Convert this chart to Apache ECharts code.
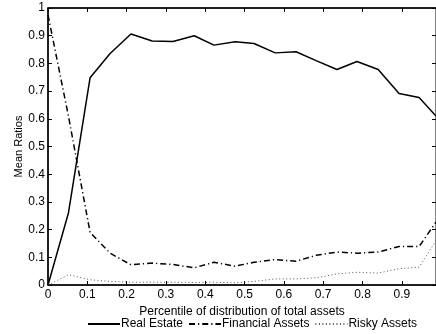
<!DOCTYPE html>
<html>
<head>
<meta charset="utf-8">
<script src="https://cdn.jsdelivr.net/npm/echarts@6/dist/echarts.min.js"></script>
<style>
  html, body { margin: 0; padding: 0; background: #fff; }
  #chart { width: 436px; height: 334px; }
</style>
</head>
<body>
<div id="chart"></div>
<script>
// percentile positions
const percentiles = [0, 0.052, 0.107, 0.158, 0.211, 0.265, 0.318, 0.372, 0.422, 0.476,
    0.524, 0.578, 0.631, 0.682, 0.735, 0.786, 0.840, 0.893, 0.944, 0.987];

const realEstate = [0, 0.26, 0.748, 0.836, 0.906, 0.881, 0.879, 0.90, 0.866, 0.878,
    0.872, 0.838, 0.842, 0.81, 0.778, 0.807, 0.778, 0.691, 0.677, 0.61];

const financialAssets = [0.975, 0.61, 0.19, 0.115, 0.073, 0.079, 0.074, 0.062, 0.082, 0.068,
    0.082, 0.092, 0.086, 0.107, 0.119, 0.115, 0.119, 0.139, 0.139, 0.227];

const riskyAssets = [0, 0.037, 0.019, 0.013, 0.01, 0.01, 0.01, 0.009, 0.01, 0.008,
    0.013, 0.022, 0.022, 0.026, 0.04, 0.046, 0.043, 0.059, 0.064, 0.16];

const seriesNames = ['Real Estate', 'Financial Assets', 'Risky Assets'];

const toPoints = (values) => values.map((v, i) => [percentiles[i], v]);

const font = '"Liberation Sans", Arial, Helvetica, sans-serif';
const chart = echarts.init(document.getElementById('chart'), null, {renderer: 'canvas'});

const tickFormatter = (value) => {
    return value === 0 ? '0' : (Math.round(value * 10) / 10).toString();
};

const option = {
    animation: false,
    backgroundColor: '#ffffff',
    grid: {
        left: 48,
        right: 0,
        top: 8,
        bottom: 49,
        show: true,
        borderColor: '#000',
        borderWidth: 1
    },
    legend: {
        top: 313,
        left: 82,
        itemWidth: 32,
        itemHeight: 10,
        itemGap: 5,
        itemStyle: {opacity: 0},
        textStyle: {fontFamily: font, fontSize: 12, color: '#000', padding: [0, 0, 0, -4]},
        data: seriesNames
    },
    xAxis: [
        {
            type: 'value',
            min: 0,
            max: 0.987,
            interval: 0.1,
            name: 'Percentile of distribution of total assets',
            nameLocation: 'middle',
            nameGap: 12,
            nameTextStyle: {fontFamily: font, fontSize: 12, color: '#000'},
            axisLine: {onZero: false, lineStyle: {color: '#000', width: 1.5}},
            axisTick: {inside: true, length: 4, lineStyle: {color: '#000'}},
            axisLabel: {fontFamily: font, fontSize: 12, color: '#000', margin: 4,
                showMaxLabel: false, formatter: tickFormatter},
            splitLine: {show: false}
        },
        {
            type: 'value',
            position: 'top',
            min: 0,
            max: 0.987,
            interval: 0.1,
            axisLine: {onZero: false, lineStyle: {color: '#000', width: 1.5}},
            axisTick: {inside: true, length: 4, lineStyle: {color: '#000'}},
            axisLabel: {show: false},
            splitLine: {show: false}
        }
    ],
    yAxis: [
        {
            type: 'value',
            min: 0,
            max: 1,
            interval: 0.1,
            name: 'Mean Ratios',
            nameLocation: 'middle',
            nameGap: 24,
            nameMoveOverlap: false,
            nameTextStyle: {fontFamily: font, fontSize: 11, color: '#000'},
            axisLine: {onZero: false, lineStyle: {color: '#000', width: 1.5}},
            axisTick: {inside: true, length: 4, lineStyle: {color: '#000'}},
            axisLabel: {fontFamily: font, fontSize: 12, color: '#000', margin: 3, formatter: tickFormatter},
            splitLine: {show: false}
        },
        {
            type: 'value',
            position: 'right',
            min: 0,
            max: 1,
            interval: 0.1,
            axisLine: {onZero: false, lineStyle: {color: '#000', width: 1}},
            axisTick: {inside: true, length: 4, lineStyle: {color: '#000'}},
            axisLabel: {show: false},
            splitLine: {show: false}
        }
    ],
    series: [
        {
            name: seriesNames[0],
            type: 'line',
            symbol: 'none',
            color: '#000',
            lineStyle: {color: '#000', width: 1.5, type: 'solid'},
            data: toPoints(realEstate)
        },
        {
            name: seriesNames[1],
            type: 'line',
            symbol: 'none',
            color: '#000',
            lineStyle: {color: '#000', width: 1.5, type: [6, 3, 1.2, 3]},
            data: toPoints(financialAssets)
        },
        {
            name: seriesNames[2],
            type: 'line',
            symbol: 'none',
            color: '#000',
            lineStyle: {color: '#555', width: 1, type: [1, 2.5]},
            data: toPoints(riskyAssets)
        }
    ]
};
chart.setOption(option);
</script>
</body>
</html>
